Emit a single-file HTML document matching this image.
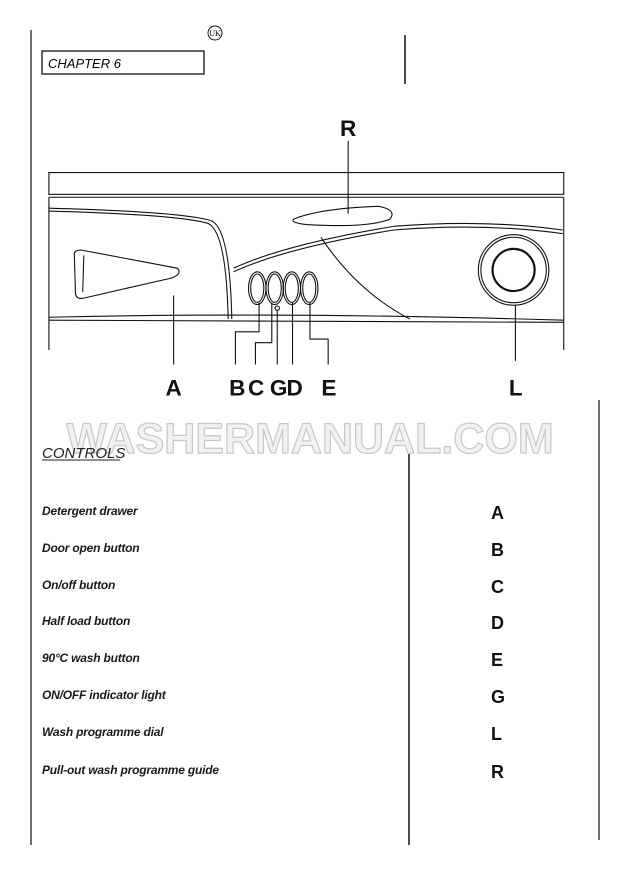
<!DOCTYPE html>
<html><head><style>
body{margin:0;width:620px;height:878px;background:#fff;overflow:hidden;position:relative;font-family:"Liberation Sans",sans-serif}
.it{position:absolute;left:42px;font-style:italic;font-weight:bold;font-size:12px;color:#1a1a1a;letter-spacing:-0.2px}
.lt{position:absolute;left:491px;font-weight:bold;font-size:18px;color:#111}
</style></head><body>
<svg width="620" height="878" style="position:absolute;left:0;top:0">
<line x1="31" y1="30" x2="31" y2="845" stroke="#222" stroke-width="1.3"/>
<line x1="405" y1="35" x2="405" y2="84" stroke="#111" stroke-width="1.5"/>
<line x1="409" y1="454" x2="409" y2="845" stroke="#111" stroke-width="1.5"/>
<line x1="599" y1="400" x2="599" y2="840" stroke="#222" stroke-width="1.3"/>
<circle cx="215" cy="33" r="7" fill="none" stroke="#111"/>
<text x="215" y="36" font-size="8" text-anchor="middle" font-family="Liberation Serif">UK</text>
<rect x="42" y="51" width="162" height="23" fill="none" stroke="#111" stroke-width="1.3"/>
<text x="48" y="68" font-size="13" font-style="italic">CHAPTER 6</text>
<g transform="translate(30,110) scale(0.3636)" fill="none" stroke="#111" stroke-width="3">
<rect x="52" y="172" width="1416" height="60"/>
<line x1="52" y1="240" x2="1468" y2="240"/>
<line x1="52" y1="240" x2="52" y2="660"/>
<line x1="1468" y1="240" x2="1468" y2="660"/>
<path d="M52,570 Q700,555 1468,578"/><path d="M52,578 L1468,584"/>
<path d="M52,270 Q420,280 500,305 Q550,330 555,575"/>
<path d="M52,278 Q410,288 490,312 Q540,335 545,575"/>
<path d="M140,385 Q120,385 122,400 L125,505 Q127,520 145,518 L390,462 Q420,450 405,435 Z"/>
<path d="M148,400 L145,500"/>
<path d="M725,300 Q800,270 960,265 Q1010,275 990,300 Q930,325 760,315 Q715,310 725,300 Z"/>
<path d="M560,435 Q700,370 1000,320 Q1250,300 1465,330"/>
<path d="M560,445 Q700,380 1000,330 Q1250,310 1465,340"/>
<path d="M800,350 Q900,500 1045,575"/>
<ellipse cx="625" cy="490" rx="24" ry="45"/><ellipse cx="625" cy="490" rx="18" ry="39"/>
<ellipse cx="673" cy="490" rx="24" ry="45"/><ellipse cx="673" cy="490" rx="18" ry="39"/>
<ellipse cx="720" cy="490" rx="24" ry="45"/><ellipse cx="720" cy="490" rx="18" ry="39"/>
<ellipse cx="768" cy="490" rx="24" ry="45"/><ellipse cx="768" cy="490" rx="18" ry="39"/>
<circle cx="680" cy="545" r="6"/>
<circle cx="1330" cy="440" r="97"/><circle cx="1330" cy="440" r="90"/>
<circle cx="1330" cy="440" r="58" stroke-width="6"/>
<line x1="395" y1="510" x2="395" y2="700"/>
<path d="M630,530 V610 H565 V700"/>
<path d="M665,530 V640 H620 V700"/>
<line x1="680" y1="551" x2="680" y2="700"/>
<line x1="722" y1="530" x2="722" y2="700"/>
<path d="M770,530 V630 H820 V700"/>
<line x1="1335" y1="535" x2="1335" y2="690"/>
<line x1="875" y1="85" x2="875" y2="285"/>
<g fill="#111" stroke="none" font-size="62" font-weight="bold" text-anchor="middle">
<text x="875" y="72">R</text>
<text x="395" y="785">A</text>
<text x="570" y="785">B</text>
<text x="622" y="785">C</text>
<text x="684" y="785">G</text>
<text x="728" y="785">D</text>
<text x="822" y="785">E</text>
<text x="1336" y="785">L</text>
</g>
</g>
<text x="310" y="453" font-size="43" font-weight="bold" text-anchor="middle" fill="#f2f2f2" stroke="#c8c8c8" stroke-width="1.2">WASHERMANUAL.COM</text>
<text x="42" y="458" font-size="15" font-style="italic" fill="#222">CONTROLS</text>
<line x1="42" y1="460" x2="120" y2="460" stroke="#222"/>
</svg>
<div class="it" style="top:504px">Detergent drawer</div>
<div class="it" style="top:541px">Door open button</div>
<div class="it" style="top:578px">On/off button</div>
<div class="it" style="top:614px">Half load button</div>
<div class="it" style="top:651px">90°C wash button</div>
<div class="it" style="top:688px">ON/OFF indicator light</div>
<div class="it" style="top:725px">Wash programme dial</div>
<div class="it" style="top:763px">Pull-out wash programme guide</div>
<div class="lt" style="top:503px">A</div>
<div class="lt" style="top:540px">B</div>
<div class="lt" style="top:577px">C</div>
<div class="lt" style="top:613px">D</div>
<div class="lt" style="top:650px">E</div>
<div class="lt" style="top:687px">G</div>
<div class="lt" style="top:724px">L</div>
<div class="lt" style="top:762px">R</div>
</body></html>
